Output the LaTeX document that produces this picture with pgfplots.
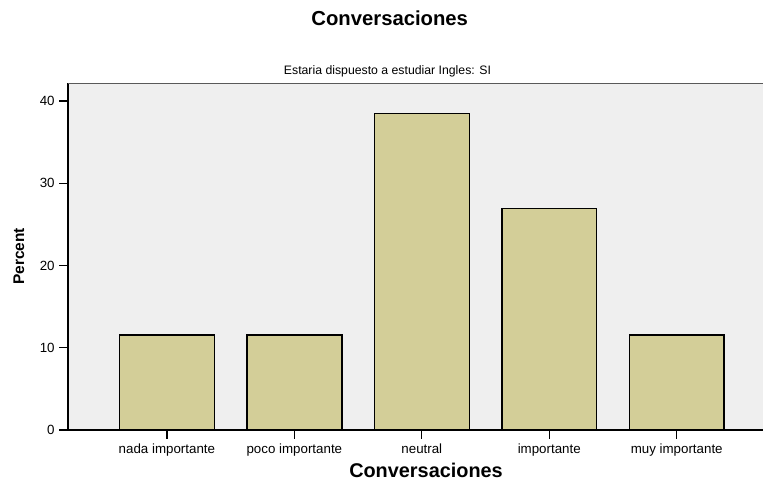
\documentclass[border=0pt]{standalone}
\usepackage{pgfplots}
\pgfplotsset{compat=1.18}
\usepackage{fontspec}
\setmainfont{Liberation Sans}
\definecolor{bg}{RGB}{239,239,239}
\definecolor{barc}{RGB}{211,206,152}
\begin{document}
\begin{tikzpicture}[x=1pt,y=1pt]
\path[use as bounding box] (0,0) rectangle (572.25,360.75);
\begin{axis}[
  at={(51pt,38.25pt)}, anchor=south west,
  width=521.25pt, height=259.875pt, scale only axis,
  xmin=-0.776, xmax=4.677, ymin=0, ymax=42.13,
  axis x line=bottom, axis y line=left,
  axis line style={-, line width=0.9pt, black},
  axis background/.style={fill=bg},
  clip=false,
  ybar, bar width=0.745,
  xtick={0,1,2,3,4},
  xticklabels={nada importante, poco importante, neutral, importante, muy importante},
  ytick={0,10,20,30,40},
  tick align=outside, major tick length=6.5pt,
  tick style={black, line width=0.9pt},
  ticklabel style={font=\fontsize{10}{12}\selectfont},
  /pgf/number format/assume math mode=true,
]
\addplot[fill=barc, draw=black, line width=1.1pt] coordinates {(0,11.54) (1,11.54) (2,38.46) (3,26.92) (4,11.54)};
\draw[black!65, line width=1.1pt] (rel axis cs:0,1) -- (rel axis cs:1,1);
\end{axis}
\node[font=\fontsize{15.2}{18}\selectfont\bfseries] at (292.3,347.25) {Conversaciones};
\node[font=\fontsize{9.2}{11}\selectfont] at (290.6,307.5) {Estaria dispuesto a estudiar Ingles: SI};
\node[font=\fontsize{11.6}{14}\selectfont\bfseries, rotate=90] at (14.25,168.4) {Percent};
\node[font=\fontsize{14.9}{18}\selectfont\bfseries] at (319.5,8.25) {Conversaciones};
\end{tikzpicture}
\end{document}
